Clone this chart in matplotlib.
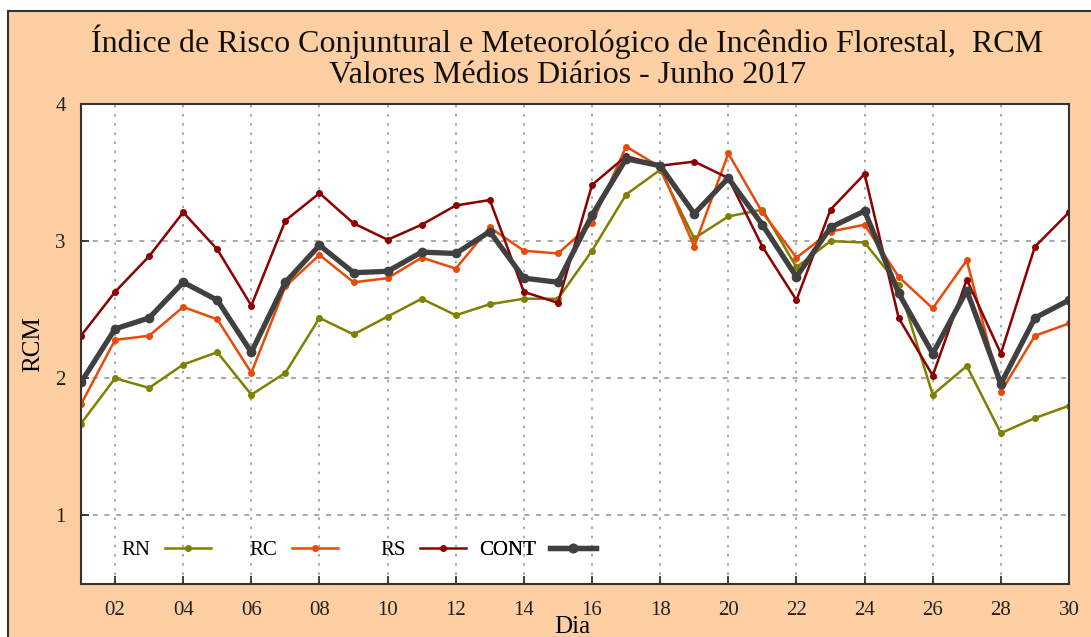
import numpy as np
import matplotlib
matplotlib.use("Agg")
import matplotlib.pyplot as plt
from matplotlib.patches import Rectangle

plt.rcParams['font.family'] = ['Liberation Serif', 'DejaVu Serif']

dias = np.arange(1, 31)

rn = [1.67, 2.00, 1.93, 2.10, 2.19, 1.88, 2.04, 2.44, 2.32, 2.45,
      2.58, 2.46, 2.54, 2.58, 2.58, 2.93, 3.34, 3.52, 3.02, 3.18,
      3.23, 2.81, 3.00, 2.99, 2.68, 1.88, 2.09, 1.60, 1.71, 1.80]
rc = [1.81, 2.28, 2.31, 2.52, 2.43, 2.04, 2.67, 2.90, 2.70, 2.73,
      2.88, 2.80, 3.10, 2.93, 2.91, 3.13, 3.69, 3.54, 2.96, 3.64,
      3.21, 2.88, 3.07, 3.12, 2.74, 2.51, 2.86, 1.90, 2.31, 2.40]
rs = [2.31, 2.63, 2.89, 3.21, 2.94, 2.53, 3.15, 3.35, 3.13, 3.01,
      3.12, 3.26, 3.30, 2.63, 2.55, 3.41, 3.62, 3.55, 3.58, 3.46,
      2.96, 2.57, 3.23, 3.49, 2.44, 2.02, 2.72, 2.18, 2.96, 3.21]
cont = [1.97, 2.36, 2.44, 2.70, 2.57, 2.19, 2.70, 2.97, 2.77, 2.78,
        2.92, 2.91, 3.07, 2.73, 2.70, 3.19, 3.60, 3.55, 3.20, 3.46,
        3.12, 2.74, 3.10, 3.22, 2.62, 2.18, 2.64, 1.96, 2.44, 2.57]

xticks = np.arange(2, 31, 2)
xlabels = ['%02d' % d for d in xticks]

peach = '#FECFA2'

fig = plt.figure(figsize=(10.91, 6.37), dpi=100, facecolor='white')
fig.patches.append(Rectangle((8 / 1091, -0.01), 1.0, (637 - 11) / 637 + 0.01,
                             transform=fig.transFigure, facecolor=peach,
                             edgecolor='#333333', lw=1.5, zorder=-10))

ax = fig.add_axes([81 / 1091, 53 / 637, 988 / 1091, 480 / 637])
ax.set_facecolor('white')

h_rn, = ax.plot(dias, rn, color='#808000', lw=1.8, marker='o', ms=4)
h_rc, = ax.plot(dias, rc, color='#E84A0A', lw=1.8, marker='o', ms=4)
h_rs, = ax.plot(dias, rs, color='#8B0000', lw=1.8, marker='o', ms=4)
h_cont, = ax.plot(dias, cont, color='#404040', lw=3.8, marker='o', ms=6)

ax.set_xlim(1, 30)
ax.set_ylim(0.5, 4)
ax.set_xticks(xticks)
ax.set_xticklabels(xlabels)
ax.set_yticks([1, 2, 3, 4])
ax.tick_params(direction='in', length=6, width=1.2, labelsize=15, colors='#222222', pad=12)
ax.tick_params(axis='y', pad=11)
ax.xaxis.grid(True, color='#999999', ls=(0, (1.5, 4)), lw=1.2)
ax.yaxis.grid(True, color='#999999', ls=(0, (3, 4)), lw=1.2)
for s in ax.spines.values():
    s.set_color('#333333')
    s.set_linewidth(1.5)

ax.set_xlabel('Dia', fontsize=18)
ax.xaxis.set_label_coords(0.497, -0.066)
ax.set_ylabel('RCM', fontsize=18, labelpad=8)

fig.text(0.52, 0.935, 'Índice de Risco Conjuntural e Meteorológico de Incêndio Florestal,  RCM',
         ha='center', va='center', fontsize=23, color='#111111')
fig.text(0.52, 0.882, 'Valores Médios Diários - Junho 2017',
         ha='center', va='center', fontsize=23, color='#111111')

# gnuplot-style key: right-aligned labels, each entry placed by its line end
entries = [(h_rn, 'RN', 0.1316), (h_rc, 'RC', 0.2601),
           (h_rs, 'RS', 0.3897), (h_cont, 'CONT', 0.5213)]
for h, lab, xe in entries:
    leg = ax.legend([h], [lab], loc='center right', bbox_to_anchor=(xe, 0.0708),
                    frameon=False, markerfirst=False, fontsize=15,
                    handlelength=2.2, handletextpad=0.7, borderpad=0,
                    borderaxespad=0)
    ax.add_artist(leg)

fig.savefig('out.png', dpi=100, facecolor=fig.get_facecolor())
